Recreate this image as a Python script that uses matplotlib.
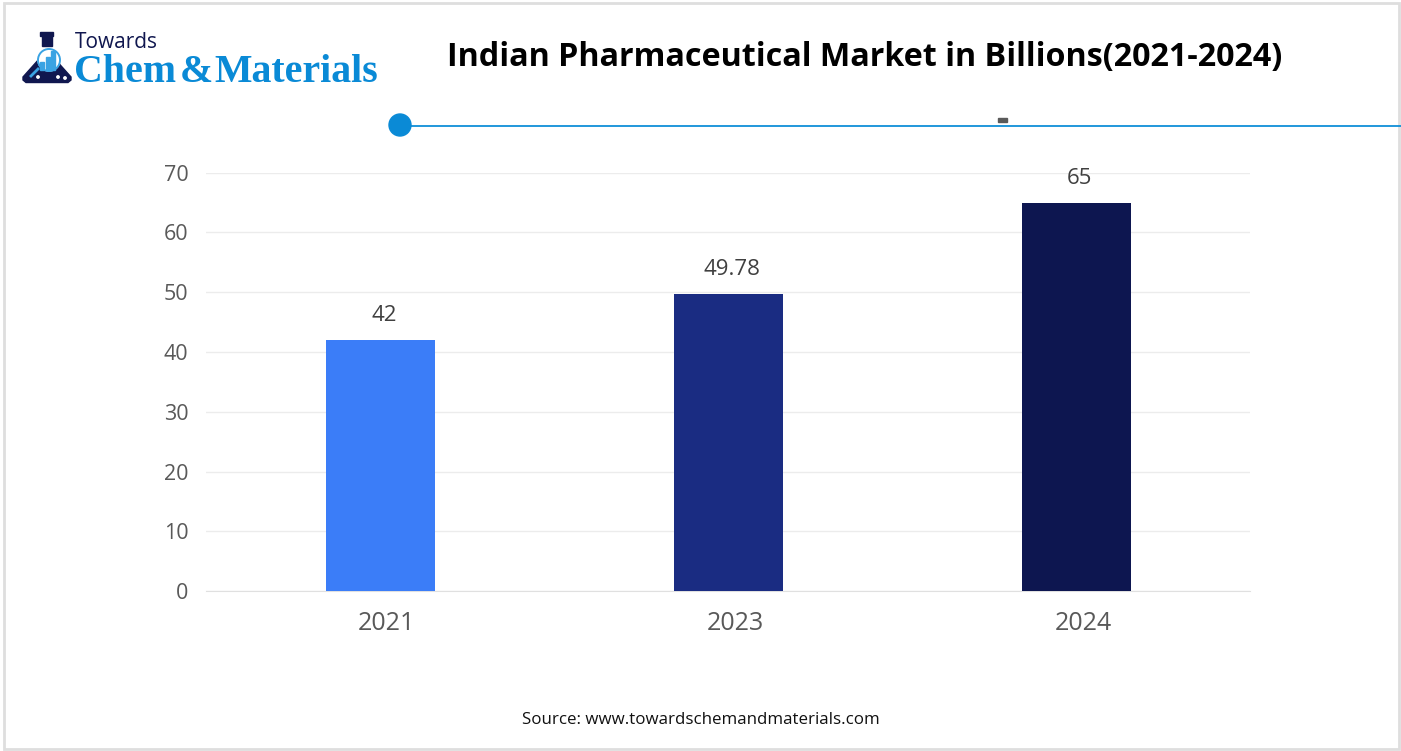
import matplotlib
matplotlib.use('Agg')
import matplotlib.pyplot as plt
from matplotlib.patches import Rectangle, Polygon, Circle
from matplotlib.transforms import ScaledTranslation

plt.rcParams['font.family'] = ['Open Sans', 'DejaVu Sans']

WIDTH, HEIGHT = 1401, 751

years = ['2021', '2023', '2024']
market_size = [42, 49.78, 65]
value_labels = ['42', '49.78', '65']
bar_colors = ['#3b7df8', '#1a2c82', '#0d1650']
y_ticks = [0, 10, 20, 30, 40, 50, 60, 70]

fig = plt.figure(figsize=(WIDTH / 100, HEIGHT / 100), dpi=100, facecolor='white')

# overlay in pixel coordinates for border, logo and header line
bg = fig.add_axes([0, 0, 1, 1])
bg.set_xlim(0, WIDTH)
bg.set_ylim(HEIGHT, 0)
bg.axis('off')

# outer border
bg.add_patch(Rectangle((3.5, 2.5), WIDTH - 6, HEIGHT - 5, fill=False, edgecolor='#dedede', linewidth=2))

# header line with dot
bg.plot([400, WIDTH], [125.5, 125.5], color='#0f8fd8', linewidth=1.3, solid_capstyle='butt', zorder=3)
bg.add_patch(Circle((400, 125), 11, color='#0a8ad6', zorder=3))
bg.add_patch(Rectangle((998, 117.5), 8.5, 4, color='#5a5a5a'))

# logo flask
navy = '#10174f'
blue = '#0a8ad6'
bg.add_patch(Rectangle((40, 32), 13, 4, color=navy))
bg.add_patch(Rectangle((42, 36), 10, 10, color=navy))
bg.add_patch(Polygon([[40, 58], [54, 58], [71, 77], [71, 80], [68, 82.5], [26, 82.5], [23, 80], [23, 77]],
                     closed=True, color=navy))
bg.add_patch(Circle((49, 60), 11, color='white', zorder=3))
bg.add_patch(Circle((49, 60), 11, fill=False, edgecolor='#3aa3e3', linewidth=1.4, zorder=4))
for bx, bh in [(40, 8), (46, 13), (51, 19)]:
    bg.add_patch(Rectangle((bx, 70 - bh), 4, bh, color='#3aa3e3', zorder=4))
bg.plot([31, 38], [76, 69], color='#3aa3e3', linewidth=2, zorder=4)
for dot_x, dot_y in [(38, 77), (58, 77), (65, 78)]:
    bg.add_patch(Circle((dot_x, dot_y), 1.2, color='white', zorder=4))

bg.text(75, 43, 'Towards', fontsize=15, color=navy, ha='left', va='center', family='Open Sans')
bg.text(74, 72, 'Chem', fontsize=28.7, color=blue, fontweight='bold', ha='left', va='center',
        family='Liberation Serif')
bg.text(180, 72, '&', fontsize=28.7, color=blue, fontweight='bold', ha='left', va='center',
        family='Liberation Serif')
bg.text(214, 72, 'Materials', fontsize=28.7, color=blue, fontweight='bold', ha='left', va='center',
        family='Liberation Serif')

# title and source
bg.text(865, 57.5, 'Indian Pharmaceutical Market in Billions(2021-2024)', fontsize=23.25, fontweight='bold',
        color='black', ha='center', va='center')
bg.text(700.5, 720, 'Source: www.towardschemandmaterials.com', fontsize=12.2, color='#111111',
        ha='center', va='center')

# bar chart
ax = fig.add_axes([206.4 / WIDTH, 1 - 591.2 / HEIGHT, 1044 / WIDTH, 418.5 / HEIGHT])
ax.patch.set_alpha(0)
positions = list(range(len(years)))
bars = ax.bar(positions, market_size, width=0.3135, color=bar_colors, zorder=3)
ax.set_xlim(-0.5, 2.5)
ax.set_ylim(0, 70)
ax.set_xticks(positions)
ax.set_xticklabels(years, fontsize=18, color='#595959')
ax.set_yticks(y_ticks)
ax.set_yticklabels([str(t) for t in y_ticks], fontsize=15.5, color='#595959')
ax.tick_params(axis='both', length=0)
ax.tick_params(axis='x', pad=14)
ax.tick_params(axis='y', pad=13)
ax.grid(axis='y', color='#ececec', linewidth=1, zorder=0)
ax.set_axisbelow(True)
for side in ['top', 'right', 'left']:
    ax.spines[side].set_visible(False)
ax.spines['bottom'].set_color('#e0e0e0')

# year labels sit a little right of the bars in the original
for tick_label in ax.get_xticklabels():
    tick_label.set_transform(tick_label.get_transform() + ScaledTranslation(0.065, 0, fig.dpi_scale_trans))

for bar, label in zip(bars, value_labels):
    ax.annotate(label, (bar.get_x() + bar.get_width() / 2, bar.get_height()), xytext=(3.5, 14),
                textcoords='offset pixels', ha='center', va='bottom', fontsize=16, color='#404040', zorder=5)

plt.savefig('out.png', dpi=100)
